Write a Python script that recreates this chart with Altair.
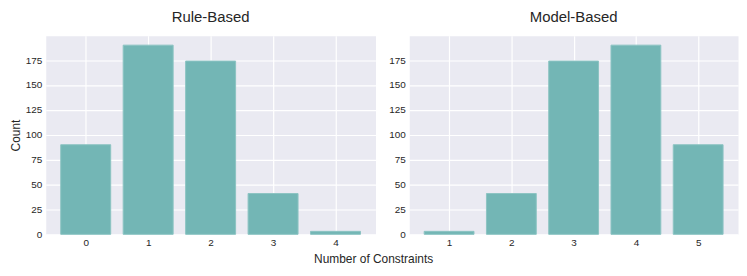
import altair as alt
import pandas as pd

# Data
rule_x = [0, 1, 2, 3, 4]
rule_counts = [90, 190, 174, 41, 3]
model_x = [1, 2, 3, 4, 5]
model_counts = [3, 41, 174, 190, 90]
y_ticks = [0, 25, 50, 75, 100, 125, 150, 175]

FONT = "Liberation Sans"
TEXT = "#262626"
BAR = "#73B6B5"
EDGE = "#8CC4C3"


def panel(xs, counts, title, ytitle, width):
    df = pd.DataFrame({"x": xs, "count": counts})
    dom = [min(xs) - 0.64, max(xs) + 0.64]
    if ytitle:
        ychan = alt.Y("count:Q", title=ytitle,
                      scale=alt.Scale(domain=[0, 199.5], nice=False),
                      axis=alt.Axis(values=y_ticks))
    else:
        ychan = alt.Y("count:Q", title=None,
                      scale=alt.Scale(domain=[0, 199.5], nice=False),
                      axis=alt.Axis(values=y_ticks))
    return (
        alt.Chart(df)
        .transform_calculate(lo="datum.x - 0.4", hi="datum.x + 0.4")
        .mark_bar(color=BAR, stroke=EDGE, strokeWidth=1)
        .encode(
            x=alt.X("lo:Q", title=None,
                    scale=alt.Scale(domain=dom, nice=False, zero=False),
                    axis=alt.Axis(values=xs, format="d")),
            x2="hi:Q",
            y=ychan,
            y2=alt.datum(0),
        )
        .properties(
            width=width,
            height=200,
            title=alt.TitleParams(title, fontSize=15, font=FONT,
                                  fontWeight="normal", color=TEXT, offset=11),
        )
    )


left = panel(rule_x, rule_counts, "Rule-Based", "Count", 332)
right = panel(model_x, model_counts, "Model-Based", None, 331)

chart = (
    alt.hconcat(left, right, spacing=11)
    .properties(
        padding=0,
        title=alt.TitleParams("Number of Constraints", orient="bottom",
                              anchor="middle", frame="bounds", fontSize=12,
                              font=FONT, fontWeight="normal", color=TEXT,
                              offset=6),
    )
    .configure_view(fill="#EAEAF2", stroke="transparent")
    .configure_axis(
        labelFont=FONT, labelFontSize=10, labelColor=TEXT,
        titleFont=FONT, titleFontSize=12, titleFontWeight="normal",
        titleColor=TEXT, titlePadding=3,
        tickSize=0, labelPadding=4, domain=False,
        gridColor="white", gridWidth=1.2, gridOpacity=1,
    )
    .configure_axisX(labelPadding=3)
)

chart.save("out.html", embed_options={"renderer": "svg", "actions": False})
